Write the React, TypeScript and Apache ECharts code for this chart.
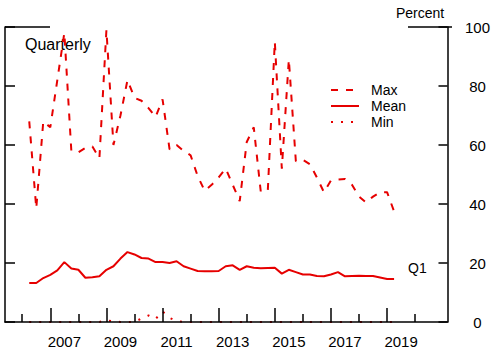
import React, { useEffect, useRef } from "react";
import * as echarts from "echarts";

// Quarterly observations, 2006:Q1 through 2019:Q1
const startYear = 2006;
const maxValues = [
  68, 38.5, 68, 66, 82, 98, 58, 57.5, 59, 59.5, 55.5, 99, 60, 70, 82, 76, 75, 72.5, 69.5, 75.5,
  58.5, 60, 58, 56.5, 49.5, 44.5, 46.5, 49, 52, 46.5, 41, 61, 66, 44.2, 44.5, 95, 52, 89, 54.5,
  55, 53.5, 49, 44, 48, 48.3, 48.5, 46.5, 42.5, 40.5, 42.5, 44, 44, 37.5,
];
const meanValues = [
  13.2, 13.2, 14.9, 16, 17.5, 20.3, 18.1, 17.7, 15, 15.2, 15.5, 17.7, 18.9, 21.5, 23.7, 22.9,
  21.7, 21.5, 20.3, 20.3, 20, 20.6, 18.9, 18.1, 17.3, 17.2, 17.2, 17.3, 18.9, 19.2, 17.7, 18.9,
  18.4, 18.2, 18.3, 18.4, 16.4, 17.7, 16.9, 16.1, 16.1, 15.6, 15.5, 16.1, 16.9, 15.5, 15.6,
  15.7, 15.6, 15.6, 15.1, 14.6, 14.6,
];
const minValues = [
  0, 0, 0, 0, 0, 0, 0, 0, 0, 0, 0, 0.6, 0.2, 0, 0, 0, 1.2, 2.2, 1, 3.6, 1.4, 0.3, 0, 0, 0, 0, 0,
  0, 0, 0, 0, 0, 0, 0, 0, 0, 0, 0, 0, 0, 0, 0, 0, 0, 0, 0, 0, 0, 0, 0, 0, 0, 0,
];
const seriesNames = ["Max", "Mean", "Min"];
const minorTickYears = [2006, 2008, 2010, 2012, 2014, 2016, 2018, 2020];
const majorTickYears = [2007, 2009, 2011, 2013, 2015, 2017, 2019];
const yearLabels = ["2007", "2009", "2011", "2013", "2015", "2017", "2019"];
const yTicks = [0, 20, 40, 60, 80, 100];

const RED = "#e60000";
const FONT = "'Liberation Sans', Arial, Helvetica, sans-serif";

function toPairs(values: number[]) {
  return values.map((v, i) => [startYear + (i + 1) * 0.25, v]);
}

export default function App() {
  const ref = useRef<HTMLDivElement>(null);
  useEffect(() => {
    if (!ref.current) return;
    const chart = echarts.init(ref.current, undefined, { renderer: "svg" });
    const xMin = 2005.386;
    const xMax = 2021.153;
    const labelPositions = yearLabels.map((y) => Number(y) + 0.5);
    const option: any = {
      animation: false,
      textStyle: { fontFamily: FONT },
      grid: { left: 5, right: 41, top: 27, bottom: 29 },
      xAxis: [
        {
          type: "value",
          min: xMin,
          max: xMax,
          position: "bottom",
          z: 5,
          axisLine: { show: true, onZero: false, lineStyle: { color: "#000", width: 1.5 } },
          axisTick: {
            show: true,
            inside: true,
            length: 8,
            customValues: minorTickYears,
            lineStyle: { color: "#000", width: 1.5 },
          },
          axisLabel: {
            show: true,
            customValues: labelPositions,
            formatter: (v: number) => String(Math.floor(v)),
            fontSize: 15,
            color: "#000",
            margin: 12,
            fontFamily: FONT,
          },
          splitLine: { show: false },
        },
        {
          type: "value",
          min: xMin,
          max: xMax,
          position: "bottom",
          z: 5,
          axisLine: { show: false },
          axisTick: {
            show: true,
            inside: true,
            length: 14,
            customValues: majorTickYears,
            lineStyle: { color: "#000", width: 1.5 },
          },
          axisLabel: { show: false },
          splitLine: { show: false },
        },
      ],
      yAxis: [
        {
          type: "value",
          position: "right",
          min: yTicks[0],
          max: yTicks[yTicks.length - 1],
          interval: 20,
          z: 5,
          axisLine: { show: true, lineStyle: { color: "#000", width: 1.5 } },
          axisTick: { show: true, inside: true, length: 9, lineStyle: { color: "#000", width: 1.5 } },
          axisLabel: {
            show: true,
            fontSize: 15,
            color: "#000",
            align: "center",
            margin: 30,
            fontFamily: FONT,
          },
          splitLine: { show: false },
        },
        {
          type: "value",
          position: "left",
          min: yTicks[0],
          max: yTicks[yTicks.length - 1],
          interval: 20,
          z: 5,
          axisLine: { show: true, lineStyle: { color: "#000", width: 1.5 } },
          axisTick: { show: true, inside: true, length: 10, lineStyle: { color: "#000", width: 1.5 } },
          axisLabel: { show: false },
          splitLine: { show: false },
        },
      ],
      legend: {
        data: seriesNames,
        orient: "vertical",
        left: 325,
        top: 78,
        itemWidth: 28,
        itemHeight: 14,
        itemGap: 2,
        itemStyle: { opacity: 0 },
        textStyle: { fontSize: 14, color: "#000", fontFamily: FONT, padding: [0, 0, 0, 7] },
      },
      series: [
        {
          name: seriesNames[0],
          type: "line",
          data: toPairs(maxValues),
          symbol: "none",
          color: RED,
          lineStyle: { color: RED, width: 2, type: [7, 8] },
        },
        {
          name: seriesNames[1],
          type: "line",
          data: toPairs(meanValues),
          symbol: "none",
          color: RED,
          lineStyle: { color: RED, width: 2 },
        },
        {
          name: seriesNames[2],
          type: "line",
          data: toPairs(minValues),
          symbol: "none",
          color: RED,
          lineStyle: { color: RED, width: 2, type: [2, 8] },
        },
      ],
      graphic: [
        {
          type: "line",
          shape: { x1: 5, y1: 27, x2: 50, y2: 27 },
          style: { stroke: "#000", lineWidth: 1.5 },
        },
        {
          type: "line",
          shape: { x1: 408, y1: 27, x2: 452, y2: 27 },
          style: { stroke: "#000", lineWidth: 1.5 },
        },
        {
          type: "text",
          x: 25,
          y: 44,
          style: { text: "Quarterly", fontSize: 16, fill: "#000", fontFamily: FONT, verticalAlign: "middle" },
        },
        {
          type: "text",
          x: 396,
          y: 13,
          style: { text: "Percent", fontSize: 14, fill: "#000", fontFamily: FONT, verticalAlign: "middle" },
        },
        {
          type: "text",
          x: 408,
          y: 268,
          style: { text: "Q1", fontSize: 14, fill: "#000", fontFamily: FONT, verticalAlign: "middle" },
        },
      ],
    };
    chart.setOption(option);
    return () => chart.dispose();
  }, []);
  return (
    <div
      ref={ref}
      style={{ position: "fixed", left: 0, top: 0, width: 493, height: 351, background: "#fff" }}
    />
  );
}
